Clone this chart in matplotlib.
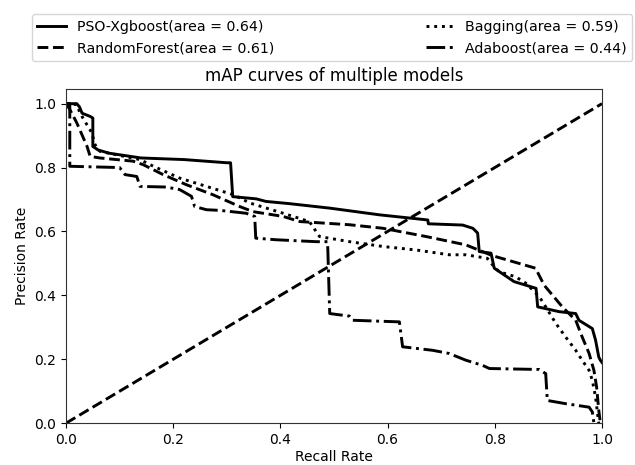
import matplotlib
matplotlib.use("Agg")
import matplotlib.pyplot as plt

# PSO-Xgboost (solid)
xgb_recall = [0.0, 0.02, 0.025, 0.03, 0.045, 0.05, 0.05, 0.06, 0.08, 0.10, 0.14, 0.22, 0.30, 0.307, 0.311,
              0.355, 0.373, 0.417, 0.492, 0.585, 0.641, 0.675, 0.676, 0.740, 0.759, 0.768, 0.771, 0.793,
              0.799, 0.836, 0.877, 0.880, 0.920, 0.951, 0.957, 0.982, 0.988, 0.994, 0.997, 1.0]
xgb_prec = [1.0, 1.0, 0.99, 0.97, 0.96, 0.955, 0.866, 0.855, 0.845, 0.84, 0.83, 0.825, 0.815, 0.815, 0.709,
            0.702, 0.694, 0.687, 0.673, 0.652, 0.642, 0.636, 0.624, 0.620, 0.610, 0.595, 0.537, 0.532,
            0.485, 0.443, 0.422, 0.364, 0.349, 0.343, 0.322, 0.296, 0.260, 0.207, 0.197, 0.19]

# RandomForest (dashed)
rf_recall = [0.0, 0.007, 0.020, 0.039, 0.045, 0.063, 0.094, 0.125, 0.144, 0.181, 0.225, 0.274, 0.324,
             0.349, 0.405, 0.436, 0.529, 0.591, 0.672, 0.746, 0.796, 0.876, 0.892, 0.926, 0.951, 0.963,
             0.976, 0.985, 0.990, 0.994, 0.997]
rf_prec = [1.0, 0.982, 0.940, 0.867, 0.835, 0.830, 0.825, 0.820, 0.809, 0.778, 0.746, 0.715, 0.678,
           0.662, 0.647, 0.631, 0.621, 0.610, 0.584, 0.558, 0.524, 0.485, 0.432, 0.364, 0.322, 0.270,
           0.218, 0.165, 0.113, 0.040, 0.0]

# Bagging (dotted)
bag_recall = [0.0, 0.020, 0.026, 0.035, 0.048, 0.054, 0.063, 0.094, 0.138, 0.163, 0.212, 0.262, 0.312,
              0.343, 0.405, 0.454, 0.473, 0.529, 0.591, 0.653, 0.715, 0.746, 0.786, 0.796, 0.808, 0.839,
              0.858, 0.883, 0.895, 0.914, 0.932, 0.951, 0.963, 0.976, 0.982, 0.988, 0.991, 0.994]
bag_prec = [1.0, 0.997, 0.971, 0.945, 0.909, 0.872, 0.851, 0.840, 0.825, 0.804, 0.767, 0.741, 0.715,
            0.689, 0.657, 0.631, 0.584, 0.568, 0.553, 0.542, 0.527, 0.527, 0.516, 0.495, 0.474, 0.458,
            0.438, 0.396, 0.364, 0.312, 0.270, 0.228, 0.197, 0.165, 0.134, 0.082, 0.040, 0.0]

# Adaboost (dash-dot)
ada_recall = [0.0, 0.007, 0.007, 0.10, 0.110, 0.132, 0.138, 0.187, 0.212, 0.234, 0.240, 0.262, 0.287,
              0.336, 0.352, 0.354, 0.392, 0.467, 0.488, 0.492, 0.529, 0.535, 0.622, 0.628, 0.684,
              0.715, 0.746, 0.777, 0.790, 0.883, 0.895, 0.898, 0.932, 0.976, 0.982, 0.985]
ada_prec = [1.0, 1.0, 0.804, 0.80, 0.778, 0.772, 0.741, 0.739, 0.731, 0.710, 0.678, 0.668, 0.666,
            0.657, 0.647, 0.579, 0.574, 0.568, 0.568, 0.343, 0.335, 0.322, 0.317, 0.239, 0.228,
            0.218, 0.197, 0.181, 0.171, 0.168, 0.155, 0.071, 0.061, 0.050, 0.035, 0.0]

diag = [0.0, 1.0]

labels = ["PSO-Xgboost(area = 0.64)", "RandomForest(area = 0.61)",
          "Bagging(area = 0.59)", "Adaboost(area = 0.44)"]

fig = plt.figure(figsize=(6.35, 4.65), dpi=100)
ax = fig.add_axes([0.104, 0.090, 0.844, 0.718])

lw = 2.1
h1, = ax.plot(xgb_recall, xgb_prec, color="black", lw=lw, linestyle="-")
h2, = ax.plot(rf_recall, rf_prec, color="black", lw=lw, linestyle="--")
h3, = ax.plot(bag_recall, bag_prec, color="black", lw=lw, linestyle=":")
h4, = ax.plot(ada_recall, ada_prec, color="black", lw=lw, linestyle="-.")
ax.plot(diag, diag, color="black", lw=lw, linestyle="--")

ax.set_xlim(0, 1.0)
ax.set_ylim(0, 1.045)
ax.set_xticks([0.0, 0.2, 0.4, 0.6, 0.8, 1.0])
ax.set_yticks([0.0, 0.2, 0.4, 0.6, 0.8, 1.0])
ax.set_xlabel("Recall Rate", labelpad=2)
ax.set_ylabel("Precision Rate")
ax.set_title("mAP curves of multiple models", fontsize=12, pad=6)
for s in ax.spines.values():
    s.set_color("#333333")

fig.legend([h1, h2, h3, h4], labels, ncol=2, mode="expand", loc="lower left",
           bbox_to_anchor=(0.050, 0.869, 0.946, 0.103), fontsize=10.2,
           borderaxespad=0.0, handlelength=2.0, frameon=True)

fig.savefig("out.png", dpi=100)
